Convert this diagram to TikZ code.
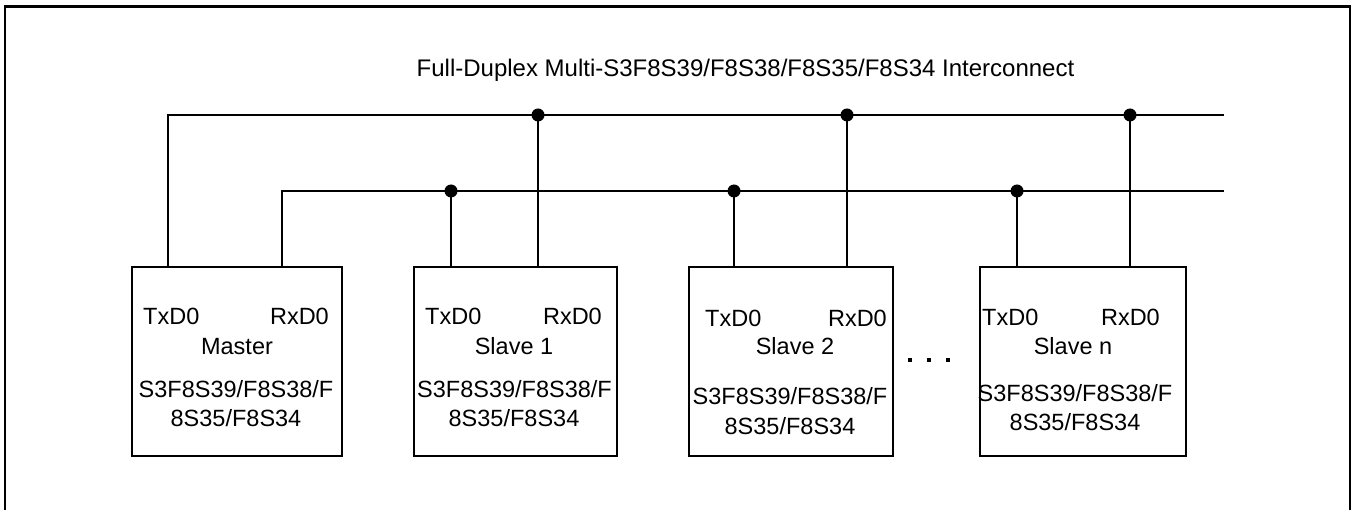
\documentclass[tikz,border=0pt]{standalone}
\usepackage{fontspec}
\setmainfont{Liberation Sans}
\begin{document}
\begin{tikzpicture}[x=1pt,y=-1pt,
  wire/.style={line width=1.8pt},
  chip/.style={draw,line width=1.8pt,rectangle,inner sep=0pt,anchor=north west},
  lbl/.style={font=\fontsize{23.5}{28}\selectfont,inner sep=0pt},
  jdot/.style={circle,fill=black,inner sep=0pt,minimum size=13pt},
  sdot/.style={rectangle,fill=black,inner sep=0pt,minimum size=4.5pt}]
\useasboundingbox (0,0) rectangle (1352,510);
\clip (0,0) rectangle (1352,510);
% frame
\draw[line width=2.5pt] (5,515) -- (5,6.5) -- (1350,6.5) -- (1350,515);
% title
\node[font=\fontsize{24}{28}\selectfont,inner sep=0pt,anchor=base] (title) at (745.5,77) {Full-Duplex Multi-S3F8S39/F8S38/F8S35/F8S34 Interconnect};
% boxes
\node[chip,minimum width=210pt,minimum height=189pt] (m) at (131,266) {};
\node[chip,minimum width=203pt,minimum height=189pt] (s1) at (413,266) {};
\node[chip,minimum width=204pt,minimum height=189pt] (s2) at (688,266) {};
\node[chip,minimum width=206pt,minimum height=189pt] (sn) at (979,266) {};
% box texts
\node[lbl,anchor=base west] (mtxl) at (143,325) {TxD0};
\node[lbl,anchor=base east] (mrxl) at (329,325) {RxD0};
\node[lbl,anchor=base] (mname) at (237,354.5) {Master};
\node[lbl,anchor=base] (mp1) at (236,398) {S3F8S39/F8S38/F};
\node[lbl,anchor=base] (mp2) at (236,426) {8S35/F8S34};
\node[lbl,anchor=base west] (s1txl) at (425,325) {TxD0};
\node[lbl,anchor=base east] (s1rxl) at (602,325) {RxD0};
\node[lbl,anchor=base] (s1name) at (514,354.5) {Slave 1};
\node[lbl,anchor=base] (s1p1) at (514.5,398) {S3F8S39/F8S38/F};
\node[lbl,anchor=base] (s1p2) at (514,426) {8S35/F8S34};
\node[lbl,anchor=base west] (s2txl) at (705,327) {TxD0};
\node[lbl,anchor=base east] (s2rxl) at (887,327) {RxD0};
\node[lbl,anchor=base] (s2name) at (795,355) {Slave 2};
\node[lbl,anchor=base] (s2p1) at (790,405) {S3F8S39/F8S38/F};
\node[lbl,anchor=base] (s2p2) at (790,434) {8S35/F8S34};
\node[lbl,anchor=base west] (sntxl) at (982,326) {TxD0};
\node[lbl,anchor=base east] (snrxl) at (1160,326) {RxD0};
\node[lbl,anchor=base] (snname) at (1073,355) {Slave n};
\node[lbl,anchor=base] (snp1) at (1075,402) {S3F8S39/F8S38/F};
\node[lbl,anchor=base] (snp2) at (1075,431) {8S35/F8S34};
% ellipsis dots
\node[sdot] (e1) at (910,360) {};
\node[sdot] (e2) at (929,360) {};
\node[sdot] (e3) at (948,360) {};
% pins
\coordinate (mtx) at (168,266);
\coordinate (mrx) at (282,266);
\coordinate (s1tx) at (451,266);
\coordinate (s1rx) at (538,266);
\coordinate (s2tx) at (734,266);
\coordinate (s2rx) at (847,266);
\coordinate (sntx) at (1017,266);
\coordinate (snrx) at (1130,266);
% bus ends
\coordinate (busA) at (1224,115);
\coordinate (busB) at (1224,191);
\draw[wire] (mtx) |- (busA);
\draw[wire] (mrx) |- (busB);
% junctions
\node[jdot] (j1a) at (538,115) {};
\node[jdot] (j2a) at (847,115) {};
\node[jdot] (j3a) at (1130,115) {};
\node[jdot] (j1b) at (451,191) {};
\node[jdot] (j2b) at (734,191) {};
\node[jdot] (j3b) at (1017,191) {};
\draw[wire] (s1rx) -- (j1a.center);
\draw[wire] (s2rx) -- (j2a.center);
\draw[wire] (snrx) -- (j3a.center);
\draw[wire] (s1tx) -- (j1b.center);
\draw[wire] (s2tx) -- (j2b.center);
\draw[wire] (sntx) -- (j3b.center);
\end{tikzpicture}
\end{document}
